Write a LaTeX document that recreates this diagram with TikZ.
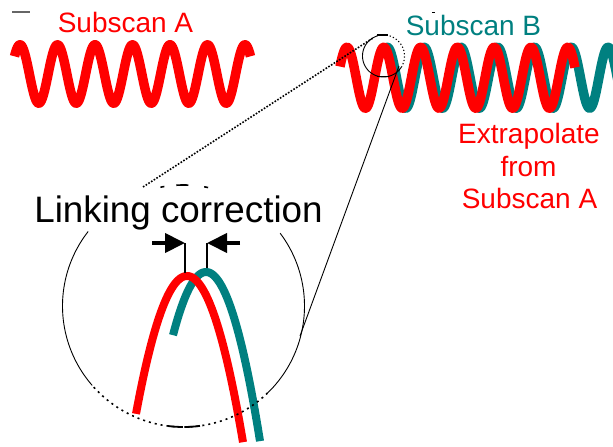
\documentclass[tikz,border=0pt]{standalone}
\usepackage{fontspec}
\setmainfont{Liberation Sans}
\usetikzlibrary{arrows.meta}
\definecolor{wred}{RGB}{255,0,0}
\definecolor{wteal}{RGB}{0,128,128}
\begin{document}
\begin{tikzpicture}[x=1pt,y=-1pt,
  wave/.style={line width=9.5pt, line join=round},
  zoomwave/.style={line width=8pt, line join=round},
  lab/.style={inner sep=0pt, font=\fontsize{28}{32}\selectfont},
  biglab/.style={inner sep=0pt, font=\fontsize{36.8}{40}\selectfont},
  thinline/.style={line width=0.9pt, black},
  dotline/.style={line width=1.6pt, black, dash pattern=on 1.6pt off 1.6pt},
  circdot/.style={line width=1.6pt, black, dash pattern=on 2pt off 4pt},
  circdash/.style={line width=1.8pt, black},
  dimarrow/.style={line width=4pt, -{Triangle[length=20pt,width=19pt]}},
  marker/.style={line width=1.2pt, black}]
\useasboundingbox (0,0) rectangle (613,447);

% tiny marks
\draw[line width=1.2pt, black!60] (12,12) -- (30,12);
\draw[line width=1pt, black] (432,12) -- (435,12);

% Subscan A wave
\draw[wave, wred] plot[domain=14.5:250.5, samples=300] (\x, {74-29.25*cos((\x-20)*9.6)});

% Subscan B waves
\draw[wave, wteal] plot[domain=383:618, samples=300] (\x, {77.75-30.5*cos((\x-350.5)*9.7826)});
\draw[wave, wred] plot[domain=340:575, samples=300] (\x, {77.75-30.5*cos((\x-347)*9.7826)});

% labels
\node[lab, wred, anchor=base] (sa) at (125.5,32) {Subscan A};
\node[lab, wteal, anchor=base] (sb) at (473.5,35) {Subscan B};
\node[lab, wred, anchor=base] (e1) at (529,143.5) {Extrapolate};
\node[lab, wred, anchor=base] (e2) at (528.5,176.5) {from};
\node[lab, wred, anchor=base] (e3) at (529.5,208.5) {Subscan A};
\node[biglab, black, anchor=base] (lc) at (178.5,222) {Linking correction};

% zoomed peaks
\draw[zoomwave, wteal] plot[domain=173:260, samples=80] (\x, {272+0.058*(\x-206)*(\x-206)});
\draw[zoomwave, wred] plot[domain=136:243, samples=80] (\x, {276+0.053*(\x-187)*(\x-187)});

% big circle (center 183.5,306  r 121)
\draw[thinline] plot[domain=139:218, samples=60] ({183.5+121*cos(\x)}, {306+121*sin(\x)});
\draw[thinline] plot[domain=-37:46, samples=60] ({183.5+121*cos(\x)}, {306+121*sin(\x)});
\draw[circdot] plot[domain=46:139, samples=80] ({183.5+121*cos(\x)}, {306+121*sin(\x)});
\draw[circdash] plot[domain=90.3:97.4, samples=10] ({183.5+121*cos(\x)}, {306+121*sin(\x)});
\draw[circdash] plot[domain=82.2:89.3, samples=10] ({183.5+121*cos(\x)}, {306+121*sin(\x)});
\draw[line width=1.6pt, black, dash pattern=on 4pt off 12pt on 12pt off 16pt on 4pt off 100pt]
  plot[domain=-101:-78, samples=20] ({183.5+121*cos(\x)}, {306+121*sin(\x)});

% small circle (center 383.5,56  r 21)
\draw[thinline] plot[domain=100:250, samples=40] ({383.5+21*cos(\x)}, {56+21*sin(\x)});
\draw[thinline] plot[domain=30:100, samples=20] ({383.5+21*cos(\x)}, {56+21*sin(\x)});
\draw[line width=1.1pt, black, dash pattern=on 1.2pt off 2.2pt] plot[domain=-110:30, samples=40] ({383.5+21*cos(\x)}, {56+21*sin(\x)});
\draw[circdash] (377,35) -- (388,35);
\draw[circdash] (377,76.5) -- (388,76.5);

% zoom connectors
\coordinate (bigtl) at (143,187);
\coordinate (smtl) at (373,38);
\coordinate (smbr) at (399,66);
\coordinate (bigr) at (300,336);
\draw[dotline] (bigtl) -- (smtl);
\draw[thinline] (smbr) -- (bigr);

% linking correction arrows
\coordinate (a1s) at (152,243);
\coordinate (a1e) at (185,243);
\coordinate (a2s) at (240,243);
\coordinate (a2e) at (207,243);
\coordinate (redpk) at (185,273);
\coordinate (tealpk) at (207,268);
\draw[dimarrow] (a1s) -- (a1e);
\draw[dimarrow] (a2s) -- (a2e);
\draw[marker] (a1e) -- (redpk);
\draw[marker] (a2e) -- (tealpk);
\end{tikzpicture}
\end{document}
